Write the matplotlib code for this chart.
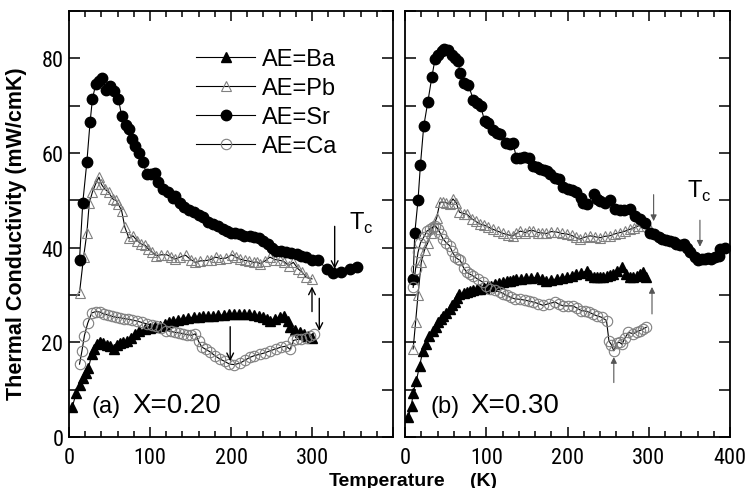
import matplotlib
matplotlib.use('Agg')
import matplotlib.pyplot as plt
from matplotlib.ticker import MultipleLocator, FixedLocator, FixedFormatter
from matplotlib import font_manager

# --- Data: panel (a) X=0.20 ---
ba_a_T = [4, 9, 13, 17, 21, 24, 28, 31, 34, 38, 42, 47, 51, 55, 59, 63, 67, 71, 76, 81,
          87, 94, 100, 106, 112, 118, 124, 129, 135, 141, 147, 154, 160, 166, 172, 178,
          184, 191, 198, 204, 210, 216, 222, 228, 234, 240, 245, 248, 254, 260, 266, 270,
          273, 279, 285, 290, 295, 300]
ba_a_k = [6.3, 9.4, 11, 12.5, 13.5, 14.5, 17.5, 18.5, 19.6, 20, 19.8, 19.5, 19.2, 18.6,
          19.5, 19.9, 20, 20.3, 21, 21.8, 22.3, 22.8, 23, 23.3, 23.5, 23.8, 24.2, 24.6,
          24.8, 25, 25.2, 25.3, 25.4, 25.5, 25.5, 25.6, 25.7, 25.8, 26, 25.9, 26, 26, 25.9,
          25.8, 25.6, 25.4, 25, 24.6, 25, 25.3, 25.6, 24.5, 23.2, 22.6, 22.1, 21.7, 21.4, 21]

pb_a_T = [13, 18, 22, 25, 29, 33, 37, 40, 44, 49, 54, 58, 61, 65, 69, 74, 79, 84, 89, 94,
          98, 103, 108, 114, 121, 126, 131, 137, 144, 150, 156, 162, 170, 175, 181, 187,
          194, 201, 206, 211, 217, 222, 228, 232, 236, 242, 248, 254, 261, 266, 271, 277,
          283, 288, 293, 300]
pb_a_k = [30.5, 38, 43, 49.4, 51.8, 53.5, 54.9, 53.4, 52.4, 51.7, 50.3, 50, 49.2, 47.8,
          44.3, 42, 42.5, 41.5, 40.8, 40.5, 39.7, 39, 38.3, 38.5, 38.5, 38, 37.6, 38, 38.4,
          37.5, 36.9, 37.2, 37.3, 37.5, 38, 37.7, 37.8, 38.5, 38, 37.6, 37.3, 37.2, 36.9,
          37, 36.6, 37.2, 38, 37.5, 37.3, 37, 36.2, 36.9, 35.5, 34.8, 33.7, 33.4]

sr_a_T = [13, 17, 22, 26, 29, 33, 37, 41, 46, 51, 56, 61, 65, 70, 74, 78, 82, 86, 91, 96,
          101, 106, 110, 116, 122, 128, 131, 137, 142, 148, 154, 160, 166, 172, 178, 184,
          190, 195, 200, 205, 211, 216, 223, 229, 234, 240, 246, 251, 256, 262, 268, 274,
          281, 287, 293, 300, 308, 318, 326, 336, 347, 355]
sr_a_k = [37.5, 49.5, 58, 66.5, 71.5, 74.5, 75.3, 75.8, 73.4, 74.1, 73, 71.5, 67.8, 66,
          65, 63, 61.5, 60, 58, 55.6, 55.5, 55.8, 53.9, 52.4, 51.7, 50.5, 51, 49.5, 48.5,
          48, 47.5, 47, 46.4, 45.5, 45, 44.5, 43.9, 43.5, 43.2, 43, 42.9, 42.5, 42.5, 42.2,
          42, 41.5, 40.8, 40, 39.4, 39.2, 39, 38.9, 38.7, 38.3, 38, 37.5, 37.3, 35.5, 34.6,
          34.8, 35.5, 36]

ca_a_T = [13, 16, 19, 23, 28, 33, 38, 43, 48, 53, 58, 63, 68, 73, 78, 84, 90, 96, 102,
          108, 114, 120, 126, 131, 136, 141, 146, 151, 156, 160, 164, 169, 174, 180, 186,
          192, 198, 204, 211, 217, 223, 229, 236, 242, 248, 255, 262, 268, 273, 277, 282,
          287, 292, 297, 302]
ca_a_k = [15.4, 18.2, 21.4, 24, 26.2, 26.5, 26.4, 26, 25.8, 25.5, 25.3, 25.2, 25, 24.9,
          24.7, 24.5, 24.2, 23.9, 23.7, 23.5, 23, 22.5, 22.3, 22.1, 22, 21.8, 21.6, 21.5,
          21.8, 20.2, 19, 18.5, 18, 17.2, 16.5, 16, 15.4, 15.3, 15.6, 16.2, 16.8, 17.2,
          17.5, 17.8, 18.2, 18.6, 19, 19.2, 18.5, 20.4, 20.6, 20.8, 21, 21.3, 21.8]

# --- Data: panel (b) X=0.30 ---
ba_b_T = [4, 8, 10, 14, 18, 22, 26, 30, 34, 38, 41, 44, 47, 51, 55, 58, 61, 64, 67, 72,
          76, 80, 84, 88, 92, 97, 102, 106, 111, 116, 121, 125, 129, 133, 137, 143, 149,
          155, 162, 168, 174, 180, 187, 193, 199, 205, 211, 217, 224, 228, 232, 236, 240,
          244, 248, 252, 256, 261, 267, 272, 277, 281, 285, 289, 293, 297]
ba_b_k = [4.2, 6.6, 9.4, 11.9, 15.1, 18.2, 19.6, 21.4, 22.5, 23.3, 24.2, 25, 25.6, 26.3,
          27.1, 27.8, 28.5, 29.4, 30.2, 30.4, 30.6, 30.8, 31, 31.2, 31.3, 31.5, 31.8, 32,
          32.3, 32.5, 32.7, 32.9, 33, 33.2, 33.4, 33.4, 33.5, 33.6, 33.7, 33.3, 33, 33.2,
          33.4, 33.6, 33.9, 34.1, 34.4, 34.7, 35.1, 34.2, 33.7, 33.7, 33.7, 33.9, 34.1,
          34.2, 34.4, 35, 35.9, 34.5, 33.7, 33.9, 34.1, 34.4, 34.8, 33.7]

pb_b_T = [10, 13, 16, 20, 24, 28, 32, 35, 39, 43, 47, 51, 55, 59, 63, 67, 72, 76, 82, 87,
          92, 97, 102, 108, 114, 121, 127, 133, 137, 142, 148, 153, 158, 164, 169, 174,
          180, 187, 193, 199, 205, 210, 215, 221, 228, 234, 240, 246, 252, 258, 265, 271,
          277, 282, 287, 293, 300]
pb_b_k = [18.6, 24.2, 30, 36.9, 39.5, 41, 43, 44.6, 46.3, 49.6, 49.6, 49.5, 49.2, 50.3,
          49.5, 47.5, 47.2, 47.1, 46.1, 45.6, 45, 44.8, 44.4, 43.9, 43.5, 43, 42.7, 42.5,
          43, 43.5, 43.2, 43.6, 43.6, 43.2, 43.1, 43, 43.4, 43.3, 43, 42.9, 42.6, 42.2,
          41.8, 42.2, 42.5, 42.3, 42.1, 42.4, 42.5, 42.9, 43.2, 43.5, 43.9, 44.2, 44.6,
          44.6, 44.3]

sr_b_T = [10, 12, 16, 19, 23, 28, 33, 37, 41, 45, 48, 53, 58, 62, 65, 68, 73, 78, 84, 88,
          93, 98, 102, 108, 113, 117, 124, 129, 133, 137, 142, 146, 152, 158, 162, 166,
          171, 175, 179, 184, 189, 195, 200, 205, 211, 216, 219, 224, 232, 236, 240, 246,
          252, 258, 264, 270, 277, 283, 289, 295, 301, 307, 312, 316, 321, 326, 331, 334,
          339, 343, 347, 351, 357, 361, 365, 369, 373, 377, 382, 386, 388, 394]
sr_b_k = [33.4, 43, 50, 57.5, 65.6, 70.7, 76, 79.9, 80.6, 81.5, 82, 81.7, 80.6, 80, 79.4,
          76.9, 74.7, 74.4, 71.3, 70.5, 69.9, 66.8, 66.4, 64.9, 64.3, 64, 62.1, 62, 62.2,
          59, 59, 59.1, 58.9, 57.3, 57, 56.6, 56.4, 56.3, 55.6, 54.8, 54.5, 52.8, 52.3,
          52.1, 51.7, 50.5, 49.4, 49.2, 51.3, 50.3, 49.9, 49.5, 50.1, 48.2, 48, 48, 48.2,
          46.7, 46.1, 45.2, 43.2, 42.9, 42.3, 41.8, 41.6, 41.5, 41.2, 40.8, 40.6, 40.8, 40,
          39, 38, 37.3, 37.6, 37.6, 37.8, 37.6, 38, 38.3, 39.7, 39.9]

ca_b_T = [10, 13, 16, 19, 23, 27, 31, 35, 37, 41, 44, 47, 51, 55, 58, 62, 65, 68, 72, 76,
          80, 84, 90, 96, 100, 105, 111, 117, 121, 125, 130, 135, 141, 148, 153, 158, 164,
          170, 177, 185, 190, 195, 201, 207, 212, 217, 222, 226, 231, 236, 242, 248, 251,
          254, 257, 261, 264, 267, 271, 275, 281, 285, 289, 293, 297]
ca_b_k = [31.6, 35.5, 39, 41, 42.2, 43.5, 44, 44.4, 44.6, 43.9, 42.8, 41.8, 41, 40.4,
          39.2, 38, 37.6, 37.3, 35.8, 34.8, 34.4, 34, 33.3, 32.7, 32, 31.2, 31, 30.6, 30.3,
          29.9, 29.5, 29.2, 29.1, 28.9, 28.7, 28.5, 28.2, 27.8, 28.2, 28.5, 28, 27.7, 27.7,
          27.7, 27.2, 26.7, 26.6, 26.4, 26, 25.6, 25.3, 24.6, 20.3, 19.5, 18.2, 19.9, 20,
          19.6, 21, 22.1, 21.8, 22.2, 22.5, 22.8, 23.2]

labels = ['AE=Ba', 'AE=Pb', 'AE=Sr', 'AE=Ca']

# --- Fonts ---
# tick labels in the original are a narrow face; use one if it is installed
names = {f.name for f in font_manager.fontManager.ttflist}
TICK_FONT, TICK_SIZE = 'DejaVu Sans', 13
for cand in ['Liberation Sans Narrow', 'DejaVu Sans Condensed', 'Roboto Condensed']:
    if cand in names:
        TICK_FONT, TICK_SIZE = cand, 16
        break
plt.rcParams['font.family'] = ['Liberation Sans', 'DejaVu Sans']

GRAY = '#808080'
styles = [
    dict(marker='^', color='k', mfc='k', mec='k', ms=6.5, lw=0.8),
    dict(marker='^', color='k', mfc='none', mec=GRAY, ms=7, mew=0.8, lw=0.8),
    dict(marker='o', color='k', mfc='k', mec='k', ms=7.5, lw=0.8),
    dict(marker='o', color='k', mfc='none', mec=GRAY, ms=7.5, mew=0.8, lw=0.8),
]

fig = plt.figure(figsize=(7.47, 4.89), dpi=100)
ax_a = fig.add_axes([69 / 747, 1 - 438 / 489, 324 / 747, 426 / 489])
ax_b = fig.add_axes([405 / 747, 1 - 438 / 489, 325 / 747, 426 / 489])


def setup_axis(ax, xlabels):
    ax.set_xlim(0, 400)
    ax.set_ylim(0, 90)
    ax.xaxis.set_major_locator(FixedLocator([0, 100, 200, 300, 400]))
    ax.xaxis.set_major_formatter(FixedFormatter(xlabels))
    ax.xaxis.set_minor_locator(MultipleLocator(20))
    ax.yaxis.set_major_locator(MultipleLocator(20))
    ax.yaxis.set_minor_locator(MultipleLocator(10))
    ax.tick_params(which='both', direction='in', top=True, right=True, width=1.1)
    ax.tick_params(axis='x', which='major', length=7, pad=7)
    ax.tick_params(axis='x', which='minor', length=4)
    ax.tick_params(axis='y', which='both', length=8, pad=4)
    for s in ax.spines.values():
        s.set_linewidth(1.3)
    for lab in ax.get_xticklabels() + ax.get_yticklabels():
        lab.set_fontfamily(TICK_FONT)
        lab.set_fontsize(TICK_SIZE)


# panel (a)
series_a = [(ba_a_T, ba_a_k), (pb_a_T, pb_a_k), (sr_a_T, sr_a_k), (ca_a_T, ca_a_k)]
for (T, k), st, lab in zip(series_a, styles, labels):
    ax_a.plot(T, k, label=lab, **st)
setup_axis(ax_a, ['0', '100', '200', '300', ''])

# panel (b)
series_b = [(ba_b_T, ba_b_k), (pb_b_T, pb_b_k), (sr_b_T, sr_b_k), (ca_b_T, ca_b_k)]
for (T, k), st in zip(series_b, styles):
    ax_b.plot(T, k, **st)
setup_axis(ax_b, ['0', '100', '200', '300', '400'])
ax_b.tick_params(axis='y', labelleft=False)

# legend
ax_a.legend(loc='upper left', bbox_to_anchor=(196 / 747, 1 - 49 / 489),
            bbox_transform=fig.transFigure, frameon=False, fontsize=17,
            handlelength=2.5, handletextpad=0.3, labelspacing=0.3, borderpad=0,
            borderaxespad=0)

# arrows
arrow_a = dict(arrowstyle='->', color='k', lw=1.0, mutation_scale=12, shrinkA=0, shrinkB=0)
arrow_b = dict(arrowstyle='-|>', color='#555555', lw=0.8, mutation_scale=9, shrinkA=0, shrinkB=0)
ax_a.annotate('', xy=(328, 35.5), xytext=(328, 44.5), arrowprops=arrow_a)
ax_a.annotate('', xy=(300, 31.8), xytext=(300, 26.5), arrowprops=arrow_a)
ax_a.annotate('', xy=(309, 22.4), xytext=(309, 29.3), arrowprops=arrow_a)
ax_a.annotate('', xy=(199, 16.0), xytext=(199, 23.3), arrowprops=arrow_a)
ax_b.annotate('', xy=(306, 45.6), xytext=(306, 51.2), arrowprops=arrow_b)
ax_b.annotate('', xy=(363, 40.2), xytext=(363, 45.8), arrowprops=arrow_b)
ax_b.annotate('', xy=(304, 31.7), xytext=(304, 26), arrowprops=arrow_b)
ax_b.annotate('', xy=(257, 16.9), xytext=(257, 11.5), arrowprops=arrow_b)

# Tc labels
ax_a.text(346, 44, r'T$_{\mathregular{c}}$', fontsize=17, ha='left', va='baseline')
ax_b.text(347, 50.7, r'T$_{\mathregular{c}}$', fontsize=17, ha='left', va='baseline')

# panel labels
ax_a.text(28, 5.3, '(a)', fontsize=17, ha='left', va='baseline')
ax_a.text(78, 5.3, 'X=0.20', fontsize=20, ha='left', va='baseline')
ax_b.text(31, 5.3, '(b)', fontsize=17, ha='left', va='baseline')
ax_b.text(80, 5.3, 'X=0.30', fontsize=20, ha='left', va='baseline')

# axis labels
fig.text(17 / 747, 1 - 234 / 489, 'Thermal Conductivity (mW/cmK)', rotation=90,
         fontsize=15.5, fontweight='bold', ha='center', va='center')
fig.text(387 / 747, 1 - 482 / 489, 'Temperature', fontsize=14, fontweight='bold',
         ha='center', va='center')
fig.text(483 / 747, 1 - 482 / 489, '(K)', fontsize=14, fontweight='bold',
         ha='center', va='center')

fig.savefig('out.png', dpi=100)
